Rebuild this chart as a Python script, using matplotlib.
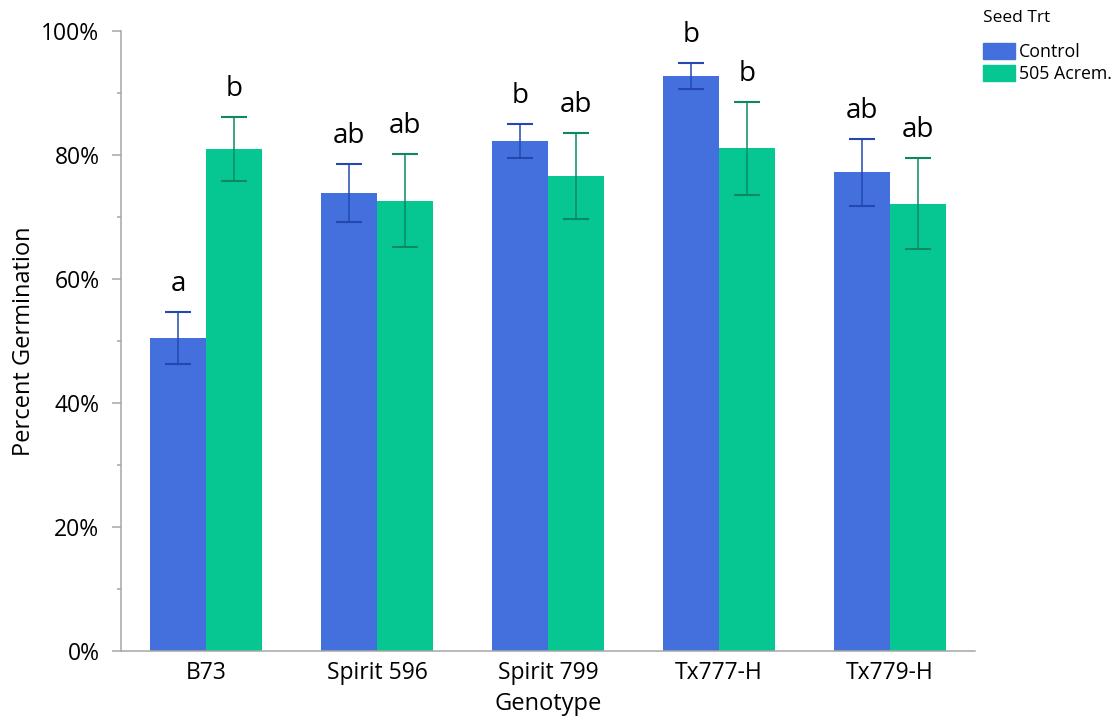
import matplotlib
matplotlib.use("Agg")
import matplotlib.pyplot as plt
from matplotlib.patches import Patch
from matplotlib.ticker import MultipleLocator, PercentFormatter
import numpy as np

plt.rcParams['font.family'] = ['Open Sans', 'DejaVu Sans']

genotypes = ["B73", "Spirit 596", "Spirit 799", "Tx777-H", "Tx779-H"]
control = [50.5, 73.9, 82.3, 92.7, 77.3]
control_hi = [54.7, 78.5, 85.0, 94.8, 82.6]
control_lo = [46.3, 69.2, 79.5, 90.6, 71.8]
acrem = [81.0, 72.6, 76.6, 81.1, 72.1]
acrem_hi = [86.1, 80.2, 83.5, 88.5, 79.5]
acrem_lo = [75.8, 65.2, 69.7, 73.5, 64.8]
control_letters = ["a", "ab", "b", "b", "ab"]
acrem_letters = ["b", "ab", "ab", "b", "ab"]
series_names = ["Control", "505 Acrem."]

c_ctrl = "#4370DC"
c_acr = "#06C792"
e_ctrl = "#2448B0"
e_acr = "#0B8A62"

fig = plt.figure(figsize=(11.19, 7.17), dpi=100)
ax = fig.add_axes([121/1119, 66/717, (975-121)/1119, (651-31)/717])

x = np.arange(len(genotypes))
w = 0.328
ax.bar(x - w/2, control, width=w, color=c_ctrl, zorder=2)
ax.bar(x + w/2, acrem, width=w, color=c_acr, zorder=2)

def errs(vals, hi, lo):
    v = np.array(vals); return [v - np.array(lo), np.array(hi) - v]

ax.errorbar(x - w/2, control, yerr=errs(control, control_hi, control_lo), fmt='none',
            ecolor=e_ctrl, elinewidth=1.1, capsize=9.6, capthick=1.5, zorder=3)
ax.errorbar(x + w/2, acrem, yerr=errs(acrem, acrem_hi, acrem_lo), fmt='none',
            ecolor=e_acr, elinewidth=1.1, capsize=9.6, capthick=1.5, zorder=3)

for i in range(len(genotypes)):
    ax.annotate(control_letters[i], (x[i] - w/2, control_hi[i]), xytext=(0, 10),
                textcoords='offset points', ha='center', va='bottom', fontsize=20)
    ax.annotate(acrem_letters[i], (x[i] + w/2, acrem_hi[i]), xytext=(0, 10),
                textcoords='offset points', ha='center', va='bottom', fontsize=20)

ax.set_xlim(-0.5, len(genotypes) - 0.5)
ax.set_ylim(0, 100)
ax.yaxis.set_major_locator(MultipleLocator(20))
ax.yaxis.set_minor_locator(MultipleLocator(10))
ax.yaxis.set_major_formatter(PercentFormatter(decimals=0))
ax.set_xticks(x)
ax.set_xticklabels(genotypes)

for s in ['top', 'right']:
    ax.spines[s].set_visible(False)
for s in ['left', 'bottom']:
    ax.spines[s].set_color('#A6A6A6')
    ax.spines[s].set_linewidth(1.1)
ax.tick_params(axis='y', which='major', length=6.5, width=1.1, color='#A6A6A6', labelsize=16.5, pad=9)
ax.tick_params(axis='y', which='minor', length=3, width=1.1, color='#A6A6A6')
ax.tick_params(axis='x', length=0, labelsize=16.5, pad=7)

ax.set_ylabel("Percent Germination", fontsize=17, labelpad=4)
ax.set_xlabel("Genotype", fontsize=17, labelpad=5)

handles = [Patch(color=c_ctrl), Patch(color=c_acr)]
leg = fig.legend(handles, series_names, title="Seed Trt", loc='upper left',
                 bbox_to_anchor=(983/1119, 1 - 10/717), frameon=False, fontsize=12.8,
                 title_fontsize=12.5, handlelength=1.8, handleheight=1.05,
                 handletextpad=0.2, labelspacing=0.2, borderaxespad=0, borderpad=0)
leg._legend_box.align = "left"
leg._legend_box.sep = 12

fig.savefig("out.png", dpi=100)
